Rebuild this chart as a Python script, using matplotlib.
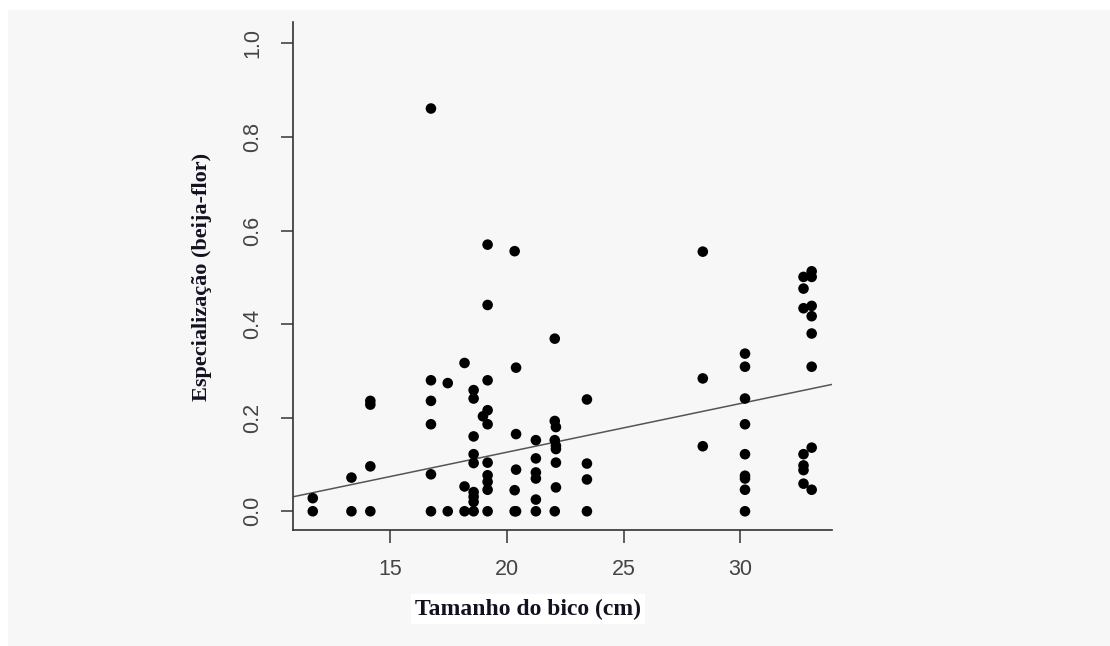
import numpy as np
import matplotlib
matplotlib.use('Agg')
import matplotlib.pyplot as plt
from matplotlib.patches import Rectangle

# beak length (cm) and specialization values
bico = [11.67, 11.67,
        13.33, 13.33,
        14.14, 14.14, 14.14, 14.14,
        16.74, 16.74, 16.74, 16.74, 16.74, 16.74,
        17.46, 17.46,
        18.18, 18.18, 18.18,
        18.57, 18.57, 18.57, 18.57, 18.57, 18.57, 18.57, 18.57, 18.57,
        18.97,
        19.17, 19.17, 19.17, 19.17, 19.17, 19.17, 19.17, 19.17, 19.17, 19.17,
        20.33, 20.39, 20.39, 20.39, 20.33, 20.33, 20.39,
        21.24, 21.24, 21.24, 21.24, 21.24, 21.24,
        22.05, 22.05, 22.10, 22.05, 22.10, 22.10, 22.10, 22.10, 22.05,
        23.43, 23.43, 23.43, 23.43,
        28.40, 28.40, 28.40,
        30.21, 30.21, 30.21, 30.21, 30.21, 30.21, 30.21, 30.21, 30.21,
        32.72, 32.72, 32.72, 32.72, 32.72, 32.72, 32.72,
        33.07, 33.07, 33.07, 33.07, 33.07, 33.07, 33.07, 33.07]
especializacao = [0.028, 0.0,
                  0.072, 0.0,
                  0.236, 0.228, 0.096, 0.0,
                  0.861, 0.280, 0.236, 0.186, 0.079, 0.0,
                  0.274, 0.0,
                  0.317, 0.053, 0.0,
                  0.259, 0.241, 0.160, 0.122, 0.103, 0.041, 0.031, 0.020, 0.0,
                  0.203,
                  0.570, 0.441, 0.280, 0.216, 0.186, 0.104, 0.077, 0.063, 0.046, 0.0,
                  0.556, 0.307, 0.165, 0.089, 0.045, 0.0, 0.0,
                  0.152, 0.113, 0.083, 0.070, 0.025, 0.0,
                  0.369, 0.193, 0.180, 0.152, 0.140, 0.133, 0.104, 0.051, 0.0,
                  0.239, 0.102, 0.068, 0.0,
                  0.555, 0.284, 0.139,
                  0.337, 0.309, 0.241, 0.186, 0.122, 0.076, 0.070, 0.046, 0.0,
                  0.501, 0.476, 0.434, 0.122, 0.098, 0.088, 0.059,
                  0.513, 0.501, 0.439, 0.417, 0.380, 0.309, 0.136, 0.046]

# fitted line
intercepto = -0.0815
inclinacao = 0.01039

x_ticks = [15, 20, 25, 30]
y_ticks = [0.0, 0.2, 0.4, 0.6, 0.8, 1.0]

fig = plt.figure(figsize=(11.1, 6.46), dpi=100)
fig.patch.set_facecolor('white')
# light grey page behind the plot
fig.patches.append(Rectangle((8 / 1110, 0), 1, 1 - 10 / 646, transform=fig.transFigure,
                             facecolor='#f7f7f7', edgecolor='none', zorder=-5))

ax = fig.add_axes([0.2637, 0.1796, 0.4856, 0.7864])
ax.patch.set_visible(False)

ax.scatter(bico, especializacao, s=58, color='black', edgecolors='none', zorder=3)

ax.set_xlim(10.81, 33.93)
ax.set_ylim(-0.04, 1.046)
xs = np.array(ax.get_xlim())
ax.plot(xs, intercepto + inclinacao * xs, color='#555555', lw=1.1, zorder=2)

for s in ['top', 'right']:
    ax.spines[s].set_visible(False)
for s in ['left', 'bottom']:
    ax.spines[s].set_color('#333333')
    ax.spines[s].set_linewidth(1.2)

ax.set_xticks(x_ticks)
ax.set_xticklabels([str(t) for t in x_ticks])
ax.set_yticks(y_ticks)
ax.set_yticklabels(['%.1f' % t for t in y_ticks], rotation=90, va='center')
ax.tick_params(length=9, width=1.2, color='#444444', labelcolor='#444444',
               labelsize=15.5, pad=12)
for lab in ax.get_xticklabels() + ax.get_yticklabels():
    lab.set_family('Liberation Sans')

fig.text(528 / 1110, 1 - 609 / 646, 'Tamanho do bico (cm)', ha='center', va='center',
         family='Liberation Serif', fontweight='bold', fontsize=17, color='#111122',
         bbox=dict(facecolor='white', edgecolor='none', pad=3))
fig.text(201.7 / 1110, 1 - 277 / 646, 'Especialização (beija-flor)', ha='center', va='center',
         rotation=90, family='Liberation Serif', fontweight='bold', fontsize=16, color='#111122')

fig.savefig('out.png', dpi=100)
